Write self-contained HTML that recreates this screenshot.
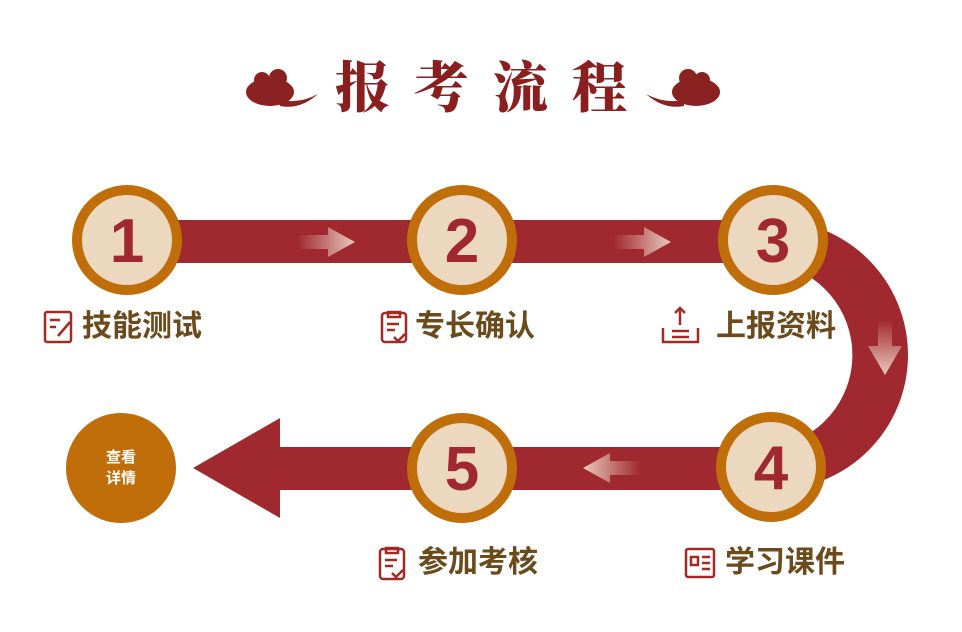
<!DOCTYPE html>
<html><head><meta charset="utf-8"><style>
body{margin:0;width:962px;height:632px;background:#fff;position:relative;overflow:hidden;font-family:"Liberation Sans","Noto Sans CJK SC",sans-serif}
.t{position:absolute;font-size:30px;font-weight:bold;color:#6b4a1c;white-space:nowrap;line-height:1}
.title{position:absolute;left:335px;top:56px;font-family:"Noto Serif CJK SC",serif;font-weight:900;font-size:55px;letter-spacing:24px;color:#8a1f1f;line-height:1;white-space:nowrap}
</style></head><body>
<svg width="962" height="632" style="position:absolute;left:0;top:0">
<defs>
<linearGradient id="gr" x1="0" x2="1"><stop offset="0" stop-color="#e8c8bc" stop-opacity="0"/><stop offset="1" stop-color="#e8c8bc"/></linearGradient>
<linearGradient id="gl" x1="1" x2="0"><stop offset="0" stop-color="#e8c8bc" stop-opacity="0"/><stop offset="1" stop-color="#e8c8bc"/></linearGradient>
<linearGradient id="gd" x1="0" x2="0" y1="0" y2="1"><stop offset="0" stop-color="#e8c8bc" stop-opacity="0"/><stop offset="1" stop-color="#e8c8bc"/></linearGradient>
</defs>
<g fill="#8a2222">
<ellipse cx="270" cy="92" rx="24" ry="14"/><circle cx="262" cy="80" r="8"/><circle cx="278" cy="78" r="9"/>
<path d="M280 100 Q300 104 318 94 Q300 110 280 106Z"/>
<ellipse cx="696" cy="92" rx="24" ry="14"/><circle cx="702" cy="80" r="8"/><circle cx="688" cy="78" r="9"/>
<path d="M684 100 Q664 104 646 94 Q664 110 684 106Z"/>
</g>
<rect x="127" y="220" width="646" height="43" fill="#a02930"/>
<path d="M773 220 A135 135 0 0 1 773 490 L773 447 A93 93 0 0 0 773 263Z" fill="#a02930"/>
<rect x="270" y="447" width="503" height="43" fill="#a02930"/>
<polygon points="193,468 280,418 280,518" fill="#a02930"/>
<path d="M298 235 H328 V227 L355 242 L328 257 V249 H298Z" fill="url(#gr)"/>
<path d="M614 235 H644 V227 L671 242 L644 257 V249 H614Z" fill="url(#gr)"/>
<path d="M640 461 H610 V453 L583 468 L610 483 V475 H640Z" fill="url(#gl)"/>
<path d="M878 320 V346 H868 L885 375 L902 346 H892 V320Z" fill="url(#gd)"/>
<g fill="#ebd8bf" stroke="#bf6e0a" stroke-width="10">
<circle cx="127" cy="240" r="50"/><circle cx="462" cy="240" r="50"/><circle cx="773" cy="240" r="50"/>
<circle cx="771" cy="467" r="50"/><circle cx="462" cy="468" r="50"/>
</g>
<g font-family="Liberation Sans" font-weight="bold" font-size="62" fill="#a02930" text-anchor="middle">
<text x="127" y="262">1</text><text x="462" y="262">2</text><text x="773" y="262">3</text><text x="771" y="489">4</text><text x="462" y="490">5</text>
</g>
<circle cx="121" cy="468" r="55" fill="#bf6e0a"/>
<g font-family="Liberation Sans,Noto Sans CJK SC,sans-serif" font-weight="bold" font-size="15" fill="#fff" text-anchor="middle">
<text x="121" y="462">查看</text><text x="121" y="483">详情</text></g>
<g fill="none" stroke="#a32a22" stroke-width="2.5">
<rect x="45" y="312" width="26" height="30" rx="2"/><path d="M50 320h10M50 327h6M58 336l12-14"/>
<rect x="382" y="313" width="24" height="29" rx="3"/><path d="M388 312h12v5h-12zM387 324h12M387 330h8M394 337l4 4 7-7"/>
<path d="M663 328v14h35v-14M672 331h17M672 337h17M680 325v-17M675 313l5-5 5 5"/>
<rect x="686" y="549" width="28" height="28" rx="2"/><path d="M691 557h7v8h-7zM702 557h8M702 563h8M702 569h8"/>
<rect x="380" y="549" width="24" height="30" rx="3"/><path d="M386 548h12v5h-12zM385 560h12M385 566h8M392 573l4 4 7-7"/>
</g>
</svg>
<div class="title">报考流程</div>
<div class="t" style="left:82px;top:312px">技能测试</div>
<div class="t" style="left:415px;top:312px">专长确认</div>
<div class="t" style="left:716px;top:312px">上报资料</div>
<div class="t" style="left:725px;top:548px">学习课件</div>
<div class="t" style="left:418px;top:548px">参加考核</div>
</body></html>
